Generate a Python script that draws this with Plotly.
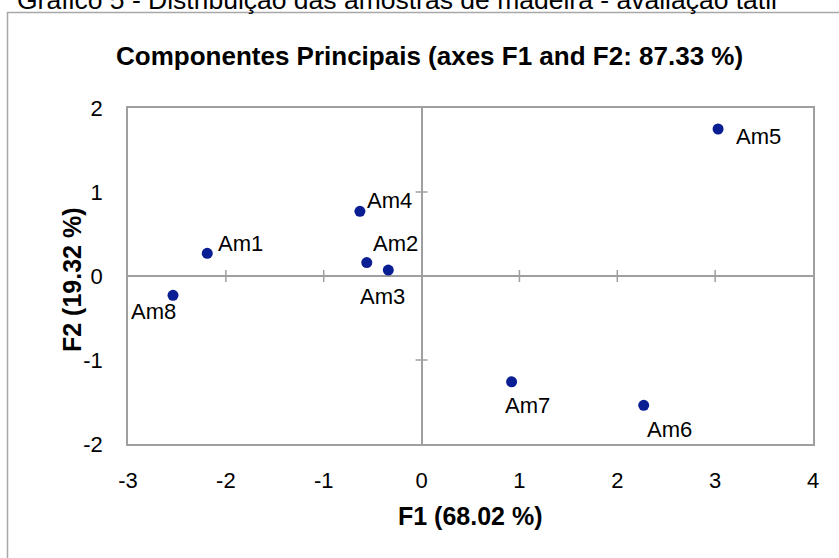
import plotly.graph_objects as go

# PCA scores of the wood samples on the first two components
samples = ["Am1", "Am2", "Am3", "Am4", "Am5", "Am6", "Am7", "Am8"]
f1_scores = [-2.19, -0.56, -0.34, -0.63, 3.03, 2.27, 0.92, -2.54]
f2_scores = [0.27, 0.16, 0.07, 0.77, 1.75, -1.54, -1.26, -0.23]

x_ticks = [-3, -2, -1, 0, 1, 2, 3, 4]
y_ticks = [-2, -1, 0, 1, 2]
x_tick_text = ["-3", "-2", "-1", "0", "1", "2", "3", "4"]
y_tick_text = ["-2", "-1", "0", "1", "2"]

# pixel offsets of each sample label relative to its point
label_shift = {
    "Am1": (33, 10), "Am2": (29, 19), "Am3": (-6, -26), "Am4": (30, 11),
    "Am5": (40, -7), "Am6": (26, -24), "Am7": (16, -24), "Am8": (-20, -16),
}

W, H = 839, 558
L, R, T, B = 128, 26, 108, 114
PW, PH = W - L - R, H - T - B
FONT = "Liberation Sans, Arial, Helvetica, sans-serif"
GRID = "#9f9f9f"
DOT = "#0A1E93"


def px_x(p):
    return (p - L) / PW


def px_y(p):
    return (H - B - p) / PH


fig = go.Figure()
fig.add_trace(go.Scatter(
    x=f1_scores, y=f2_scores, mode="markers",
    marker=dict(size=11, color=DOT, line=dict(width=0)),
    hovertext=samples, hoverinfo="text+x+y", showlegend=False,
))

annotations = []
for name, fx, fy in zip(samples, f1_scores, f2_scores):
    dx, dy = label_shift[name]
    annotations.append(dict(
        x=fx, y=fy, xref="x", yref="y", text=name, showarrow=False,
        xshift=dx, yshift=dy, xanchor="center", yanchor="middle",
        font=dict(family=FONT, size=22, color="#000"),
    ))

annotations += [
    dict(text="Gráfico 5 - Distribuição das amostras de madeira - avaliação tátil",
         xref="paper", yref="paper", x=px_x(15), y=px_y(0), xanchor="left",
         yanchor="middle", showarrow=False,
         font=dict(family=FONT, size=26.5, color="#000")),
    dict(text="<b>Componentes Principais (axes F1 and F2: 87.33 %)</b>",
         xref="paper", yref="paper", x=px_x(429), y=px_y(56), xanchor="center",
         yanchor="middle", showarrow=False,
         font=dict(family=FONT, size=26, color="#000")),
    dict(text="<b>F1 (68.02 %)</b>",
         xref="paper", yref="paper", x=px_x(470), y=px_y(516), xanchor="center",
         yanchor="middle", showarrow=False,
         font=dict(family=FONT, size=25, color="#000")),
    dict(text="<b>F2 (19.32 %)</b>", textangle=-90,
         xref="paper", yref="paper", x=px_x(72), y=px_y(280), xanchor="center",
         yanchor="middle", showarrow=False,
         font=dict(family=FONT, size=25, color="#000")),
]

shapes = [
    # outer chart frame
    dict(type="rect", xref="paper", yref="paper", layer="below",
         x0=px_x(7.5), x1=px_x(846), y0=px_y(570), y1=px_y(12.5),
         line=dict(color="#a8a8a8", width=1.5), fillcolor="rgba(0,0,0,0)"),
]
# cross-shaped tick marks along the zero lines
for v in x_ticks:
    if v in (x_ticks[0], 0, x_ticks[-1]):
        continue
    shapes.append(dict(type="line", xref="x", yref="y", x0=v, x1=v,
                       ysizemode="pixel", yanchor=0, y0=-6, y1=6,
                       line=dict(color=GRID, width=1.5)))
for v in y_ticks:
    if v in (y_ticks[0], 0, y_ticks[-1]):
        continue
    shapes.append(dict(type="line", xref="x", yref="y", y0=v, y1=v,
                       xsizemode="pixel", xanchor=0, x0=-6, x1=6,
                       line=dict(color=GRID, width=1.5)))

axis_common = dict(
    showgrid=False, zeroline=True, zerolinecolor=GRID, zerolinewidth=1.5,
    showline=True, linecolor=GRID, linewidth=1.5, mirror=True,
    ticks="outside", tickcolor="rgba(0,0,0,0)",
    tickfont=dict(family=FONT, size=22, color="#000"),
)

fig.update_layout(
    width=W, height=H,
    margin=dict(l=L, r=R, t=T, b=B),
    paper_bgcolor="white", plot_bgcolor="white",
    xaxis=dict(range=[x_ticks[0], x_ticks[-1]], tickvals=x_ticks,
               ticktext=x_tick_text, ticklen=16, **axis_common),
    yaxis=dict(range=[y_ticks[0], y_ticks[-1]], tickvals=y_ticks,
               ticktext=y_tick_text, ticklen=19, **axis_common),
    annotations=annotations, shapes=shapes,
)

fig.write_html("out.html")
